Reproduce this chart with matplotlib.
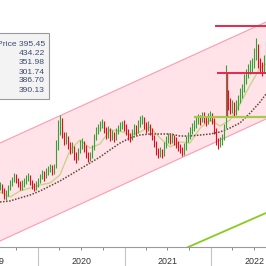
import matplotlib
matplotlib.use("Agg")
import matplotlib.pyplot as plt
import matplotlib.dates as mdates
from matplotlib.patches import Rectangle
from matplotlib.transforms import blended_transform_factory
import numpy as np
import pandas as pd

# ---------------- data ----------------
start_date = "2019-07-25"
end_date = "2022-08-21"

close = [274, 270, 264, 267, 272, 276, 280, 284, 281, 276, 273, 276, 278, 282, 284, 279, 274, 272, 275, 278,
         282, 287, 283, 288, 291, 293, 288, 292, 312, 332, 340, 327, 320, 323, 315, 310, 313, 304, 300, 308,
         315, 318, 312, 305, 301, 303, 311, 322, 329, 332, 336, 338, 331, 325, 330, 323, 326, 322, 328, 331,
         335, 337, 334, 329, 324, 322, 327, 332, 329, 336, 341, 342, 335, 331, 334, 329, 324, 317, 309, 305,
         308, 305, 314, 320, 323, 320, 322, 319, 317, 313, 310, 307, 312, 320, 323, 328, 332, 334, 338, 342,
         340, 345, 342, 338, 343, 345, 340, 330, 320, 315, 318, 322, 332, 365, 358, 352, 354, 348, 352, 360,
         365, 370, 380, 385, 390, 394, 396, 405, 415, 400, 394, 390, 398, 395.45]
high = [278, 276, 272, 270, 275, 280, 283, 287, 286, 282, 279, 280, 282, 285, 287, 285, 280, 277, 279, 282,
        286, 290, 289, 292, 294, 296, 295, 296, 320, 340, 345, 342, 328, 328, 324, 318, 318, 314, 308, 312,
        320, 322, 319, 315, 308, 308, 315, 326, 333, 336, 339, 341, 339, 333, 334, 332, 330, 328, 332, 335,
        338, 339, 340, 336, 331, 327, 331, 336, 335, 340, 344, 345, 343, 338, 339, 336, 332, 325, 319, 312,
        313, 311, 318, 324, 327, 326, 327, 325, 323, 319, 316, 313, 317, 324, 328, 333, 337, 340, 343, 346,
        345, 348, 348, 344, 347, 349, 347, 342, 332, 322, 323, 326, 336, 395, 370, 362, 360, 358, 360, 365,
        372, 376, 386, 391, 396, 400, 402, 412, 422, 416, 402, 398, 405, 418]
low = [270, 267, 261, 260, 264, 270, 274, 278, 277, 273, 270, 270, 273, 276, 279, 275, 271, 269, 270, 273,
       277, 281, 279, 282, 285, 288, 285, 286, 292, 310, 325, 322, 315, 316, 311, 306, 307, 300, 297, 300,
       307, 311, 308, 302, 298, 299, 302, 310, 320, 326, 329, 332, 327, 321, 322, 319, 320, 318, 320, 326,
       329, 331, 329, 325, 320, 318, 320, 325, 325, 327, 333, 336, 331, 327, 329, 325, 320, 313, 305, 302,
       303, 302, 304, 312, 317, 316, 317, 315, 312, 309, 307, 304, 305, 310, 318, 321, 326, 329, 332, 336,
       335, 338, 337, 334, 336, 339, 336, 326, 315, 311, 313, 315, 320, 332, 350, 346, 347, 344, 345, 350,
       357, 362, 368, 376, 382, 386, 388, 392, 400, 392, 387, 384, 388, 390]

ma_dates = ["2019-07-25", "2019-09-05", "2019-10-17", "2019-11-29", "2020-01-10", "2020-02-21", "2020-04-03",
            "2020-05-16", "2020-06-27", "2020-08-08", "2020-09-19", "2020-10-31", "2020-12-13", "2021-01-24",
            "2021-03-07", "2021-04-18", "2021-05-31", "2021-07-12", "2021-08-23", "2021-10-04", "2021-11-16",
            "2021-12-28", "2022-02-08", "2022-03-22", "2022-05-03", "2022-06-15", "2022-07-27", "2022-08-21"]
ma_long = [258, 259, 262, 265, 269, 274, 279, 285, 291, 297, 303, 310, 317, 322,
           325, 326, 326, 326, 324, 324, 325, 326, 328, 332, 337, 347, 358, 366]
ma_short = [268, 263, 269, 272, 275, 277, 285, 310, 320, 312, 316, 330, 329, 325,
            328, 333, 322, 313, 318, 317, 332, 340, 334, 340, 356, 375, 392, 396]

channel_dates = ["2019-07-25", "2022-08-21"]
channel_upper = [317, 438]
channel_lower = [219, 341]

fan_dates = ["2021-07-12", "2022-08-21"]
fan_values = [205, 247]

red_level_1 = 434.22
red_level_1_start = "2022-01-22"
red_level_2 = 386.70
red_level_2_start = "2022-01-30"
red_vline_date = "2022-03-09"
red_vline_low = 345
green_level = 343
green_level_start = "2021-10-25"

legend_label = "Price"
legend_values = [395.45, 434.22, 351.98, 301.74, 386.70, 390.13]

years = [2019, 2020, 2021, 2022]

# ---------------- figure ----------------
W = H = 266
fig = plt.figure(figsize=(2.66, 2.66), dpi=100)
ax = fig.add_axes([0, (H - 247) / H, 1, 247 / H])

dates = pd.date_range(start_date, end_date, periods=len(close))
opens = [close[0]] + close[:-1]
colors = ["#33a133" if c >= o else "#e5091d" for c, o in zip(close, opens)]

cd = pd.to_datetime(channel_dates)
ax.fill_between(cd, channel_lower, channel_upper, color="#ffe3e8", lw=0, zorder=1)
ax.plot(cd, channel_upper, color="#ff9aae", lw=0.8, zorder=2)
ax.plot(cd, channel_lower, color="#ff9aae", lw=0.8, zorder=2)

ax.plot(pd.to_datetime(fan_dates), fan_values, color="#88cc1e", lw=1.3, zorder=2)

md = pd.to_datetime(ma_dates)
ax.plot(md, ma_short, color="#c9d489", lw=1.0, zorder=3)
ax.plot(md, ma_long, color="#5b4c34", lw=1.1, ls=(0, (1, 1)), zorder=3)

ax.vlines(dates, low, high, colors=colors, lw=0.8, zorder=4)

end = pd.Timestamp(end_date) + pd.Timedelta(days=20)
ax.plot([pd.Timestamp(green_level_start), end], [green_level] * 2, color="#a4c84a", lw=1.6, zorder=5)
ax.plot([pd.Timestamp(red_level_1_start), end], [red_level_1] * 2, color="#e8264a", lw=1.4, zorder=6)
ax.plot([pd.Timestamp(red_level_2_start), end], [red_level_2] * 2, color="#e8264a", lw=1.4, zorder=6)
ax.plot([pd.Timestamp(red_vline_date)] * 2, [red_vline_low, red_level_2], color="#e8264a", lw=1.0, zorder=6)

ax.set_xlim(pd.Timestamp(start_date), pd.Timestamp(end_date))
ax.set_ylim(213, 460)

for s in ["top", "left", "right"]:
    ax.spines[s].set_visible(False)
ax.spines["bottom"].set_color("#9a9a9a")
ax.spines["bottom"].set_linewidth(0.8)
ax.set_yticks([])

ax.xaxis.set_major_locator(mdates.YearLocator())
ax.xaxis.set_minor_locator(mdates.MonthLocator(bymonth=[4, 7, 10]))
ax.xaxis.set_major_formatter(plt.NullFormatter())
ax.tick_params(axis="x", which="major", length=14, width=0.8, color="#c4c4c4", direction="out")
ax.tick_params(axis="x", which="minor", length=2.2, width=0.7, color="#8a8a8a", direction="out")

trans = blended_transform_factory(ax.transData, ax.transAxes)
for yr in years:
    ax.text(pd.Timestamp(f"{yr}-07-02"), -15 / 247, str(yr), transform=trans, ha="center", va="center",
            fontsize=6.4, color="#333333", family="Liberation Sans", clip_on=False)

# legend box (figure pixel coords from top-left)
def fx(px):
    return px / W

def fy(py):
    return 1 - py / H

fig.patches.append(Rectangle((fx(-5), fy(99)), fx(54), 66 / H, transform=fig.transFigure,
                             facecolor="#f3f3f3", edgecolor="#9a9a9a", lw=0.8, zorder=10))
for i, v in enumerate(legend_values):
    txt = f"{legend_label} {v:.2f}" if i == 0 else f"{v:.2f}"
    fig.text(fx(45), fy(45 + 9 * i), txt, ha="right", va="center", fontsize=6.1,
             color="#3e4a6e", family="Liberation Sans", zorder=11)

fig.savefig("out.png", dpi=100)
